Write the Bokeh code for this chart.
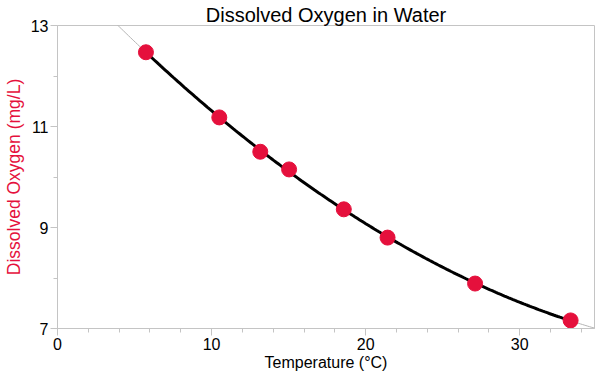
import numpy as np
from bokeh.plotting import figure
from bokeh.models import Range1d, FixedTicker
from bokeh.embed import file_html
from bokeh.resources import INLINE

# Data
temperature = [5.74, 10.5, 13.16, 15.03, 18.58, 21.42, 27.1, 33.3]
oxygen = [12.47, 11.18, 10.5, 10.15, 9.36, 8.8, 7.89, 7.16]
x_ticks = [0, 10, 20, 30]
y_ticks = [7, 9, 11, 13]

title_text = "Dissolved Oxygen in Water"
x_label = "Temperature (°C)"
y_label = "Dissolved Oxygen (mg/L)"

# Quadratic fit of the data
coef = np.polyfit(temperature, oxygen, 2)
xs_fit = np.linspace(min(temperature), max(temperature), 200)
ys_fit = np.polyval(coef, xs_fit)
xs_ext = np.linspace(2, 36, 300)
ys_ext = np.polyval(coef, xs_ext)

FONT = "Liberation Sans"
AXIS_GRAY = "#c4c4c4"
RED = "#e5103c"

p = figure(width=600, height=375, output_backend="svg", toolbar_location=None,
           x_range=Range1d(0, 34.85), y_range=Range1d(7, 13),
           min_border_left=54, min_border_right=6, min_border_top=25, min_border_bottom=47)

p.title.text = title_text
p.title.align = "center"
p.title.text_font = FONT
p.title.text_font_size = "20px"
p.title.text_font_style = "normal"
p.title.text_color = "black"
p.title.offset = 0
p.title.standoff = 0

p.xgrid.visible = False
p.ygrid.visible = False
p.outline_line_color = AXIS_GRAY
p.outline_line_width = 1
p.background_fill_color = "white"
p.border_fill_color = "white"

p.xaxis.ticker = FixedTicker(ticks=x_ticks, minor_ticks=list(range(0, 36, 2)))
p.yaxis.ticker = FixedTicker(ticks=y_ticks, minor_ticks=[8, 10, 12])

for ax in (p.xaxis[0], p.yaxis[0]):
    ax.axis_line_color = AXIS_GRAY
    ax.major_tick_line_color = AXIS_GRAY
    ax.minor_tick_line_color = AXIS_GRAY
    ax.major_tick_out = 7
    ax.major_tick_in = 0
    ax.minor_tick_out = 4
    ax.minor_tick_in = 0
    ax.major_label_text_font = FONT
    ax.major_label_text_font_size = "16px"
    ax.major_label_text_color = "black"
    ax.axis_label_text_font = FONT
    ax.axis_label_text_font_style = "normal"

p.xaxis.axis_label = x_label
p.xaxis.axis_label_text_color = "black"
p.xaxis.axis_label_text_font_size = "16px"
p.xaxis.axis_label_standoff = 1
p.xaxis.major_label_standoff = 2
p.yaxis.axis_label = y_label
p.yaxis.axis_label_text_color = RED
p.yaxis.axis_label_text_font_size = "17.5px"
p.yaxis.axis_label_standoff = 4
p.yaxis.major_label_standoff = 2

p.line(xs_ext, ys_ext, line_color="#b4b4b4", line_width=1)
p.line(xs_fit, ys_fit, line_color="black", line_width=3)
p.scatter(temperature, oxygen, size=15, fill_color=RED, line_color=RED)

open("out.html", "w").write(file_html(p, INLINE))
